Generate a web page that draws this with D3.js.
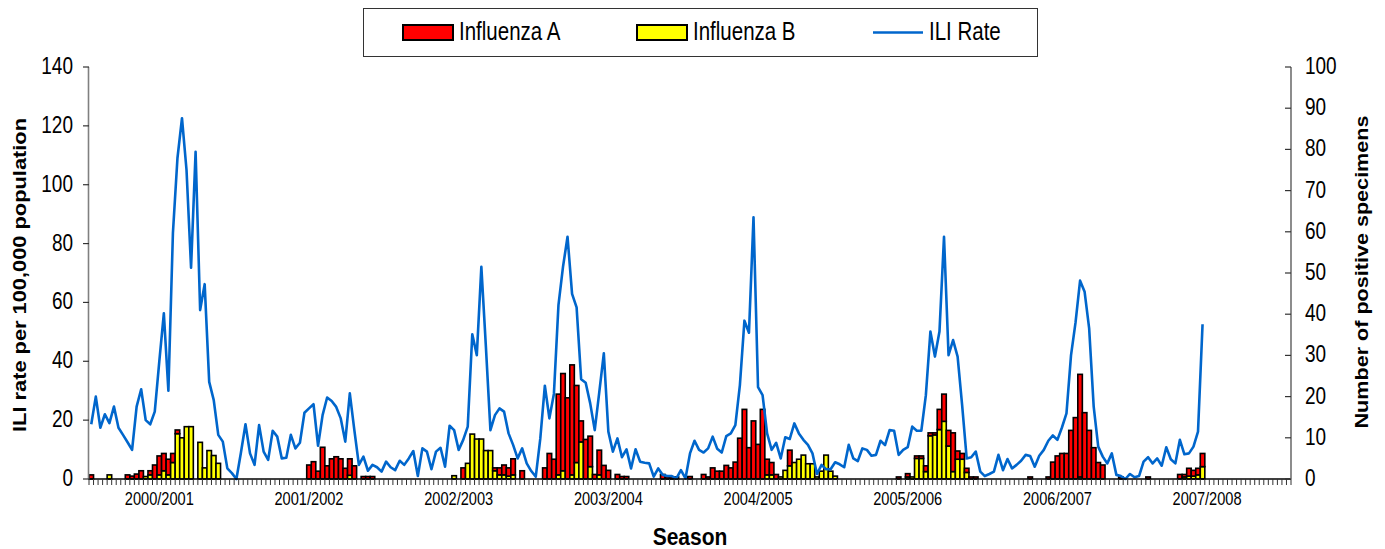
<!DOCTYPE html>
<html><head><meta charset="utf-8">
<script src="https://cdn.jsdelivr.net/npm/d3@7"></script>
<style>
body{margin:0;background:#fff;}
svg{display:block;}
text{font-family:"Liberation Sans",Arial,Helvetica,sans-serif;fill:#000;}
</style>
</head><body>
<svg id="chart" width="1385" height="549"></svg>
<script>
// ---------------- DATA ----------------
const seasons = ["2000/2001","2001/2002","2002/2003","2003/2004","2004/2005","2005/2006","2006/2007","2007/2008"];
const seasonLabelWeek = [15,48,81,114,147,180,213,246];   // category index under which each season label sits
const weekCount = 265;                                       // categories on the x axis (weekly)
const leftTicks = [0,20,40,60,80,100,120,140];
const rightTicks = [0,10,20,30,40,50,60,70,80,90,100];

// ILI rate per 100,000 (left axis), one value per week
const iliRate = [
  18.6,28,17.4,22,19,24.6,17.4,15,12.5,9.9,24.6,30.5,20,18.6,22.9,40,56.3,30,83.5,109,122.6,105,71.8,111.2,57.4,66.2,33,26.8,15,12.7,3.6,2,0,
  9,18.6,8.7,4.8,18.3,9.3,6.5,16.4,14.4,7,7.2,15,10.4,12.3,22.5,24,25.4,11.3,21.7,27.7,26.5,24.5,20.6,12.7,29.1,16.6,4.8,7.6,2.8,4.8,4,2.5,5.9,
  4,3,6.2,4.8,7,9.5,1,10.4,9.3,3.3,9.3,10.6,4.2,18.1,16.6,9.9,13.3,17.8,49.2,42.1,72.1,45,16.6,21.7,24,22.9,15.5,11.6,7,10.4,5.3,2.7,0.8,
  13.8,31.7,20.6,29,59.1,72.1,82.3,62.9,58.3,33.9,32.7,25.7,16.6,29.5,42.7,16.1,9.3,13.8,7.4,10.1,3.6,10.1,5.9,5.5,5.3,0.8,3.6,1.4,1,1,0.2,3,0.2,
  8.7,13,9.9,9,10.4,14.4,10.3,9,14.6,15.5,18.3,31.9,53.8,49.7,88.9,31.2,28.5,15.5,9.9,12.3,7,14.2,13.6,18.9,15.5,13.3,11.6,8.7,1.7,4.8,3.3,3.3,5.7,5,
  4,11.6,7,6.1,10.4,9.9,7.9,8.2,13,11.5,16.6,16.4,8.2,9.9,10.8,17.8,16.4,16.4,28.5,50.1,41.6,50.1,82.3,42.1,47.2,41.6,25,7,7.4,9.3,2.5,1,1.7,
  2.5,8.2,3,6.8,3.6,4.8,6.2,8.2,7.8,4.2,7.9,9.9,13,14.8,13.3,17.5,22.3,42,53.2,67.4,63.6,51.2,24.6,11,7.6,5.3,8.7,1.4,1,0,1.7,0.6,1,
  5.9,7.4,5.3,7,4.5,10.8,6.7,5.3,13.3,8.4,8.7,11,16.1,52.6
];

// Number of positive specimens (right axis), Influenza A
const influenzaA = [
  1,0,0,0,0,0,0,0,1,0.7,1.2,2,0,1,3.4,4.6,4.2,3.8,2.2,0.9,0,0,0,0,0,0,0,0,0,0,0,0,0,
  0,0,0,0,0,0,0,0,0,0,0,0,0,0,0,3.4,4.2,1.9,7.7,3.2,4.9,5.4,4.9,2.6,4,3.2,0,0.6,0.6,0.6,0,0,0,
  0,0,0,0,0,0,0,0,0,0,0,0,0,0,0,0,2.7,0,0,0,0,0,0,0.7,1.7,2.4,2,3.9,0,2,0,0,0,
  0,2.7,6.2,4.8,19.6,23.6,19.7,26.7,18.7,5.1,9.6,7.4,1.1,6,3.3,2.1,0,1.1,0.6,0.6,0,0,0,0,0,0,0,1.1,0.5,0.5,0.5,0,0,
  0.6,0,0,1.1,0.5,2.7,1.9,1.9,3.3,2.7,4.1,9.9,16.9,7.6,14.1,8.4,16.9,3.8,3,1.1,0,0,3.8,0,0,0,0,0,0,0,0,0,0,0,
  0,0,0,0,0,0,0,0,0,0,0,0,0.5,0,0.8,0,0.6,0.6,1.4,0.7,0.5,4.9,6.6,3.8,9.4,2,1.4,1,0.5,0.5,0,0,0,
  0,0,0,0,0,0,0,0,0.5,0,0,0,0.5,4.1,5.6,6.2,6.2,11.8,14.9,24.9,16.1,11.8,7.6,4,3.4,0,0,0,0.5,0,0,0,0,
  0,0.5,0,0,0,0,0,0,1.1,0.6,1.9,1.4,1.6,3.2
];

// Number of positive specimens (right axis), Influenza B
const influenzaB = [
  0,0,0,0,1,0,0,0,0,0,0,0,0.6,1,0,1,2,1,4,11,10,12.7,12.7,0,8.9,2.7,6.9,5.7,3.8,0,0,0,0,
  0,0,0,0,0,0,0,0,0,0,0,0,0,0,0,0,0,0,0,0,0,0,0,0,0.9,0,0,0,0,0,0,0,0,
  0,0,0,0,0,0,0,0,0,0,0,0,0,0,0.8,0,0,3.8,10.9,9.7,9.7,6.9,6.9,2,1,1,0.7,1,0,0,0,0,0,
  0,0,0,0,1,2,0,1,4,9,0,3,0,1,0,0,0,0,0,0,0,0,0,0,0,0,0,0,0,0,0,0,0,
  0,0,0,0,0,0,0,0,0,0,0,0,0,0,0,0,0,1,1,0,0.5,2.1,3.2,4,4.8,5.8,3.7,3.7,0.5,1.9,5.8,1.9,0.7,0,
  0,0,0,0,0,0,0,0,0,0,0,0,0,0,0.5,0.5,5,5,1.8,10.5,10.7,12,14,8,1.8,4.8,4.8,1.6,0,0,0,0,0,
  0,0,0,0,0,0,0,0,0,0,0,0,0,0,0,0,0,0,0,0.5,0,0,0,0,0,0,0,0,0,0,0,0,0,
  0,0,0,0,0,0,0,0,0,0.5,0.7,0.7,1,3
];

const legendItems = [
  {name:"Influenza A", type:"bar", color:"#FF0000"},
  {name:"Influenza B", type:"bar", color:"#FFFF00"},
  {name:"ILI Rate", type:"line", color:"#0066CC"}
];

// ---------------- DRAW ----------------
const svg = d3.select("#chart");
const W = 1385, H = 549;
const plot = {left: 89, right: 1291, top: 67, bottom: 479};
const SY = 1.27; // vertical stretch of the original lettering

const x = d3.scaleBand().domain(d3.range(weekCount)).range([plot.left, plot.right]).paddingInner(0).paddingOuter(0);
const yL = d3.scaleLinear().domain([0,140]).range([plot.bottom, plot.top]);
const yR = d3.scaleLinear().domain([0,100]).range([plot.bottom, plot.top]);

function txt(g, px, py, s, o) {
  o = o || {};
  const t = g.append("text")
    .attr("transform", `translate(${px},${py})` + (o.rot ? ` rotate(${o.rot})` : "") + (o.rot ? ` scale(${o.sy||1},1)` : ` scale(1,${o.sy||1})`))
    .attr("font-size", o.size || 16)
    .attr("font-weight", o.weight || "normal")
    .attr("text-anchor", o.anchor || "start")
    .text(s);
  if (o.len) t.attr("textLength", o.len).attr("lengthAdjust", "spacingAndGlyphs");
  return t;
}

// bars (B at bottom, A stacked on top)
const weeks = d3.range(iliRate.length).map(i => ({i, a: influenzaA[i], b: influenzaB[i], ili: iliRate[i]}));
const barG = svg.append("g");
weeks.forEach(d => {
  if (d.b > 0) {
    barG.append("rect")
      .attr("x", x(d.i)).attr("width", x.bandwidth())
      .attr("y", yR(d.b)).attr("height", yR(0) - yR(d.b))
      .attr("fill", "#FFFF00").attr("stroke", "#000").attr("stroke-width", 1.6);
  }
  if (d.a > 0) {
    barG.append("rect")
      .attr("x", x(d.i)).attr("width", x.bandwidth())
      .attr("y", yR(d.a + d.b)).attr("height", yR(d.b) - yR(d.a + d.b))
      .attr("fill", "#FF0000").attr("stroke", "#000").attr("stroke-width", 1.6);
  }
});

// ILI line
const line = d3.line().x(d => x(d.i) + x.bandwidth()/2).y(d => yL(d.ili));
svg.append("path").datum(weeks).attr("d", line)
  .attr("fill", "none").attr("stroke", "#0066CC").attr("stroke-width", 2.6).attr("stroke-linejoin", "round");

// x axis: baseline + a tick at every week boundary
const xa = svg.append("g");
xa.append("line").attr("x1", plot.left).attr("x2", plot.right).attr("y1", plot.bottom).attr("y2", plot.bottom)
  .attr("stroke", "#000").attr("stroke-width", 1.6);
d3.range(weekCount + 1).forEach(k => {
  const px = k < weekCount ? x(k) : plot.right;
  xa.append("line").attr("x1", px).attr("x2", px).attr("y1", plot.bottom).attr("y2", plot.bottom + 6)
    .attr("stroke", "#333").attr("stroke-width", 1);
});
seasons.forEach((s, j) => {
  const k = seasonLabelWeek[j];
  const px = plot.left + (k + 0.5) * x.step();
  txt(xa, px, 505, s, {size: 14.6, anchor: "middle", sy: SY});
});

// left axis
const la = svg.append("g");
la.append("line").attr("x1", plot.left - 0.5).attr("x2", plot.left - 0.5).attr("y1", plot.top).attr("y2", plot.bottom)
  .attr("stroke", "#808080").attr("stroke-width", 1.6);
leftTicks.forEach(v => {
  la.append("line").attr("x1", plot.left - 6).attr("x2", plot.left).attr("y1", yL(v)).attr("y2", yL(v))
    .attr("stroke", "#333").attr("stroke-width", 1.2);
  txt(la, plot.left - 16, yL(v) + 7, v, {size: 19, anchor: "end", sy: SY});
});

// right axis
const ra = svg.append("g");
ra.append("line").attr("x1", plot.right).attr("x2", plot.right).attr("y1", plot.top).attr("y2", plot.bottom)
  .attr("stroke", "#808080").attr("stroke-width", 1.8);
rightTicks.forEach(v => {
  ra.append("line").attr("x1", plot.right - 6).attr("x2", plot.right).attr("y1", yR(v)).attr("y2", yR(v))
    .attr("stroke", "#333").attr("stroke-width", 1.2);
  txt(ra, plot.right + 14, yR(v) + 7, v, {size: 19, anchor: "start", sy: SY});
});

// axis titles
txt(svg, 26, 275, "ILI rate per 100,000 population", {size: 19, weight: "bold", anchor: "middle", rot: -90, len: 314});
txt(svg, 1368, 272, "Number of positive specimens", {size: 19, weight: "bold", anchor: "middle", rot: -90, len: 313});
txt(svg, 690, 545, "Season", {size: 21, weight: "bold", anchor: "middle", sy: 1.15});

// legend
const lg = svg.append("g");
lg.append("rect").attr("x", 363.5).attr("y", 8.5).attr("width", 674).attr("height", 48)
  .attr("fill", "#fff").attr("stroke", "#333").attr("stroke-width", 1);
const legX = [403, 637, 873];
legendItems.forEach((it, j) => {
  const lx = legX[j];
  if (it.type === "bar") {
    lg.append("rect").attr("x", lx).attr("y", 25).attr("width", 50).attr("height", 15)
      .attr("fill", it.color).attr("stroke", "#000").attr("stroke-width", 2);
  } else {
    lg.append("line").attr("x1", lx).attr("x2", lx + 50).attr("y1", 32.5).attr("y2", 32.5)
      .attr("stroke", it.color).attr("stroke-width", 2.6);
  }
  txt(lg, lx + 56, 40, it.name, {size: 20.5, anchor: "start", sy: SY});
});
</script>
</body></html>
